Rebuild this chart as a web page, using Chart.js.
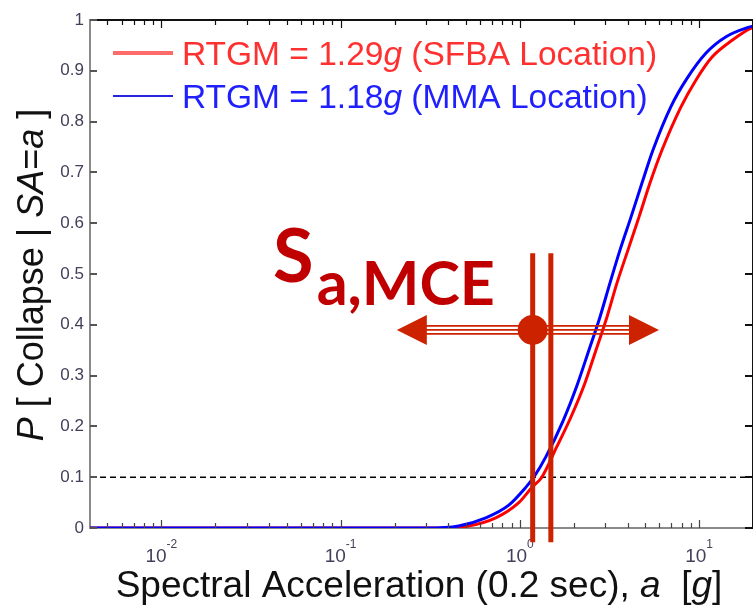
<!DOCTYPE html>
<html><head><meta charset="utf-8">
<script src="https://cdn.jsdelivr.net/npm/chart.js@4.4.0/dist/chart.umd.min.js"></script>
<style>html,body{margin:0;padding:0;background:#fff;}#wrap{width:753px;height:606px;position:relative;}</style>
</head><body><div id="wrap"><canvas id="c" width="753" height="606"></canvas></div>
<script>
// ---- data ----
const xRange = [0.004, 20];
const yTickValues = [0, 0.1, 0.2, 0.3, 0.4, 0.5, 0.6, 0.7, 0.8, 0.9, 1];
const yTickLabels = ['0', '0.1', '0.2', '0.3', '0.4', '0.5', '0.6', '0.7', '0.8', '0.9', '1'];
const xDecades = [0.01, 0.1, 1, 10];
const xDecadeExps = ['-2', '-1', '0', '1'];

const sfbaSa = [0.004, 0.35, 0.5, 0.734, 0.987, 1.17, 1.327, 1.609, 1.927, 2.307, 2.659, 3.062, 3.483, 4.012, 4.622, 5.324, 6.214, 7.93, 9.62, 11.82, 15.29, 19.53, 20];
const sfbaP  = [0, 0, 0.003, 0.02, 0.05, 0.08, 0.10, 0.16, 0.218, 0.285, 0.35, 0.415, 0.482, 0.547, 0.612, 0.679, 0.744, 0.829, 0.882, 0.927, 0.96, 0.984, 0.985];
const mmaSa  = [0.004, 0.3, 0.456, 0.646, 0.868, 1.08, 1.197, 1.397, 1.739, 2.082, 2.429, 2.799, 3.183, 3.621, 4.171, 4.804, 5.534, 6.98, 8.57, 10.94, 14.15, 19.02, 20];
const mmaP   = [0, 0, 0.004, 0.02, 0.045, 0.08, 0.10, 0.14, 0.21, 0.28, 0.35, 0.415, 0.482, 0.547, 0.612, 0.679, 0.744, 0.83, 0.885, 0.935, 0.967, 0.986, 0.988];
const thresholdP = 0.1;

const seriesNames = ['RTGM = 1.29', 'RTGM = 1.18'];
const seriesTails = [' (SFBA Location)', ' (MMA Location)'];

const mceLinesSa = [1.18, 1.49];
const mceLineP = [0.541, -0.028];
const mceDot = [1.18, 0.39];
const mceArrowSa = [0.206, 5.98];
const mceLabelAt = [0.042, 0.484];

// ---- chart ----
const toPts = (xs, ys) => xs.map((x, i) => ({x: x, y: ys[i]}));
const FONT = "'Liberation Sans', Arial, sans-serif";
const ANN = '#cc2200';

function drawPieces(ctx, pieces, x, y, size) {
  let cx = x;
  pieces.forEach(p => {
    ctx.font = (p[1] ? 'italic ' : '') + size + 'px ' + FONT;
    ctx.fillText(p[0], cx, y);
    cx += ctx.measureText(p[0]).width;
  });
}
function piecesWidth(ctx, pieces, size) {
  let w = 0;
  pieces.forEach(p => { ctx.font = (p[1] ? 'italic ' : '') + size + 'px ' + FONT; w += ctx.measureText(p[0]).width; });
  return w;
}

const decorPlugin = {
  id: 'decor',
  afterDraw(chart) {
    const ctx = chart.ctx, xs = chart.scales.x, ys = chart.scales.y, a = chart.chartArea;
    ctx.save();
    // box top/right
    ctx.strokeStyle = '#111'; ctx.lineWidth = 2;
    ctx.beginPath(); ctx.moveTo(a.left, a.top); ctx.lineTo(a.right, a.top); ctx.stroke();
    ctx.beginPath(); ctx.moveTo(a.right, a.top); ctx.lineTo(a.right, a.bottom); ctx.stroke();
    // x ticks (inward)
    ctx.lineWidth = 1.2;
    xs.ticks.forEach(t => {
      if (t.value <= xRange[0] || t.value >= xRange[1]) return;
      const px = Math.round(xs.getPixelForValue(t.value)) + 0.5;
      const len = t.major ? 8 : 5;
      ctx.strokeStyle = '#444';
      ctx.beginPath(); ctx.moveTo(px, a.bottom); ctx.lineTo(px, a.bottom - len); ctx.stroke();
      ctx.strokeStyle = '#111';
      ctx.beginPath(); ctx.moveTo(px, a.top); ctx.lineTo(px, a.top + len); ctx.stroke();
    });
    // y ticks (inward)
    ctx.lineWidth = 2;
    yTickValues.forEach(v => {
      const py = Math.round(ys.getPixelForValue(v));
      ctx.strokeStyle = '#555';
      ctx.beginPath(); ctx.moveTo(a.left, py); ctx.lineTo(a.left + 7, py); ctx.stroke();
      ctx.strokeStyle = '#111';
      ctx.beginPath(); ctx.moveTo(a.right, py); ctx.lineTo(a.right - 8, py); ctx.stroke();
    });
    // y tick labels
    ctx.fillStyle = '#45405a'; ctx.font = '17px ' + FONT;
    ctx.textAlign = 'right'; ctx.textBaseline = 'middle';
    yTickValues.forEach((v, i) => ctx.fillText(yTickLabels[i], a.left - 6, ys.getPixelForValue(v)));
    // x tick labels 10^n
    ctx.textBaseline = 'alphabetic'; ctx.textAlign = 'left';
    xDecades.forEach((v, i) => {
      const px = xs.getPixelForValue(v);
      ctx.font = '19px ' + FONT; const wb = ctx.measureText('10').width;
      ctx.font = '12px ' + FONT; const we = ctx.measureText(xDecadeExps[i]).width;
      const x0 = px - (wb + we) / 2;
      ctx.font = '19px ' + FONT; ctx.fillText('10', x0, a.bottom + 34);
      ctx.font = '12px ' + FONT; ctx.fillText(xDecadeExps[i], x0 + wb, a.bottom + 20);
    });
    // x title
    ctx.fillStyle = '#111';
    const xt = [['Spectral Acceleration (0.2 sec), ', false], ['a', true], ['  [', false], ['g', true], [']', false]];
    const xw = piecesWidth(ctx, xt, 37);
    drawPieces(ctx, xt, 419 - xw / 2, 597, 37);
    // y title
    const yt = [['P', true], [' [ Collapse | ', false], ['SA', true], ['=', false], ['a', true], [' ]', false]];
    ctx.save(); ctx.translate(43, 275); ctx.rotate(-Math.PI / 2);
    const yw = piecesWidth(ctx, yt, 36);
    drawPieces(ctx, yt, -yw / 2, 0, 36);
    ctx.restore();
    // legend
    const legCols = ['#ff3030', '#2020ff'], legLine = ['#ff6a6a', '#2525e0'], legW = [4, 2];
    const legY = [53, 96], legBase = [65, 108];
    for (let i = 0; i < 2; i++) {
      ctx.strokeStyle = legLine[i]; ctx.lineWidth = legW[i];
      ctx.beginPath(); ctx.moveTo(113, legY[i]); ctx.lineTo(173, legY[i]); ctx.stroke();
      ctx.fillStyle = legCols[i];
      drawPieces(ctx, [[seriesNames[i], false], ['g', true], [seriesTails[i], false]], 182, legBase[i], 33.5);
    }
    // ---- S_a,MCE annotation ----
    const ay = ys.getPixelForValue(mceDot[1]);
    const xl = xs.getPixelForValue(mceArrowSa[0]), xr = xs.getPixelForValue(mceArrowSa[1]);
    ctx.strokeStyle = ANN; ctx.fillStyle = ANN; ctx.lineWidth = 1.6;
    [-4, 0, 4].forEach(o => { ctx.beginPath(); ctx.moveTo(xl + 25, ay + o); ctx.lineTo(xr - 25, ay + o); ctx.stroke(); });
    ctx.beginPath(); ctx.moveTo(xl, ay); ctx.lineTo(xl + 30, ay - 15); ctx.lineTo(xl + 30, ay + 15); ctx.closePath(); ctx.fill();
    ctx.beginPath(); ctx.moveTo(xr, ay); ctx.lineTo(xr - 30, ay - 15); ctx.lineTo(xr - 30, ay + 15); ctx.closePath(); ctx.fill();
    ctx.lineWidth = 5;
    mceLinesSa.forEach(v => {
      const px = xs.getPixelForValue(v);
      ctx.beginPath(); ctx.moveTo(px, ys.getPixelForValue(mceLineP[0])); ctx.lineTo(px, ys.getPixelForValue(mceLineP[1])); ctx.stroke();
    });
    ctx.beginPath(); ctx.arc(xs.getPixelForValue(mceDot[0]), ay, 15, 0, Math.PI * 2); ctx.fill();
    const lx = xs.getPixelForValue(mceLabelAt[0]), ly = ys.getPixelForValue(mceLabelAt[1]);
    ctx.fillStyle = '#c00000';
    ctx.font = 'bold 74px Lato, ' + FONT; ctx.fillText('S', lx, ly);
    const sw = ctx.measureText('S').width;
    ctx.font = 'bold 61px Lato, ' + FONT; ctx.fillText('a,MCE', lx + sw + 3, ly + 23);
    ctx.restore();
  }
};

new Chart(document.getElementById('c'), {
  type: 'line',
  data: {
    datasets: [
      {label: 'MMA', data: toPts(mmaSa, mmaP), borderColor: '#0000ff', borderWidth: 3, pointRadius: 0, cubicInterpolationMode: 'monotone', order: 0},
      {label: 'SFBA', data: toPts(sfbaSa, sfbaP), borderColor: '#ff0000', borderWidth: 3, pointRadius: 0, cubicInterpolationMode: 'monotone', order: 1},
      {label: '10%', data: toPts(xRange, [thresholdP, thresholdP]), borderColor: '#000', borderWidth: 1.5, borderDash: [6, 4], pointRadius: 0, order: 2}
    ]
  },
  options: {
    responsive: false, animation: false, events: [],
    layout: {padding: {left: 90, top: 20, right: 0, bottom: 78}},
    plugins: {legend: {display: false}, tooltip: {enabled: false}},
    scales: {
      x: {type: 'logarithmic', min: xRange[0], max: xRange[1],
          grid: {display: false, drawTicks: false}, border: {display: true, color: '#8a8a8a', width: 2},
          ticks: {display: false},
          afterBuildTicks: s => {
            const t = [];
            [0.001, 0.01, 0.1, 1, 10].forEach(d => { for (let k = 1; k <= 9; k++) { const v = +(d * k).toPrecision(6); if (v > xRange[0] && v < xRange[1]) t.push({value: v, major: k === 1}); } });
            s.ticks = t;
          }},
      y: {type: 'linear', min: 0, max: 1,
          grid: {display: false, drawTicks: false}, border: {display: true, color: '#8a8a8a', width: 2},
          ticks: {display: false}}
    }
  },
  plugins: [decorPlugin]
});
</script></body></html>
